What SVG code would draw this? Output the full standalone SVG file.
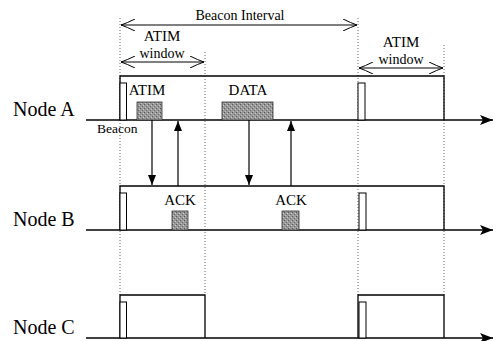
<svg xmlns="http://www.w3.org/2000/svg" width="497" height="341" viewBox="0 0 497 341">
<defs>
<style>
text{font-family:"Liberation Serif","Times New Roman",serif;fill:#000}
.node{font-size:20px}
.lbl{font-size:15px;text-anchor:middle}
.dim{font-size:14px;text-anchor:middle}
.tl{stroke:#000;stroke-width:1.3;fill:none}
.box{stroke:#000;stroke-width:1.3;fill:none}
.bcn{stroke:#000;stroke-width:1;fill:#fff}
.sh{stroke:#333;stroke-width:0.8;fill:url(#stip)}
.dot{stroke:#666;stroke-width:1;stroke-dasharray:1,2;fill:none}
.conn{stroke:#000;stroke-width:1.2;fill:none}
.dimln{stroke:#000;stroke-width:1;fill:none}
</style>
<pattern id="stip" width="4" height="4" patternUnits="userSpaceOnUse">
<rect width="4" height="4" fill="#989898"/>
<rect x="0" y="0" width="1" height="1" fill="#555"/>
<rect x="2" y="2" width="1" height="1" fill="#666"/>
<rect x="3" y="1" width="1" height="1" fill="#d0d0d0"/>
<rect x="1" y="3" width="1" height="1" fill="#c4c4c4"/>
</pattern>
<marker id="ah" viewBox="0 0 10 8" refX="10" refY="4" markerWidth="10" markerHeight="8" markerUnits="userSpaceOnUse" orient="auto">
<path d="M0,0 L10,4 L0,8 z" fill="#000"/>
</marker>
<marker id="tah" viewBox="0 0 13 10" refX="13" refY="5" markerWidth="13" markerHeight="10" markerUnits="userSpaceOnUse" orient="auto">
<path d="M0,0 L13,5 L0,10 L3,5 z" fill="#000"/>
</marker>
<marker id="open" viewBox="0 0 14 12" refX="14" refY="6" markerWidth="14" markerHeight="12" markerUnits="userSpaceOnUse" orient="auto-start-reverse">
<path d="M0,0 Q8,4 14,6 Q8,8 0,12" fill="none" stroke="#000" stroke-width="1"/>
</marker>
</defs>

<g id="guides">
<line class="dot" x1="120" y1="18" x2="120" y2="295"/>
<line class="dot" x1="205" y1="52" x2="205" y2="295"/>
<line class="dot" x1="358" y1="18" x2="358" y2="295"/>
<line class="dot" x1="444" y1="45" x2="444" y2="295"/>
</g>

<g id="beacon-interval">
<line class="dimln" x1="121" y1="25" x2="357" y2="25" marker-start="url(#open)" marker-end="url(#open)"/>
<text class="dim" x="240" y="20">Beacon Interval</text>
</g>

<g id="atim-window-1">
<line class="dimln" x1="121" y1="62" x2="204" y2="62" marker-start="url(#open)" marker-end="url(#open)"/>
<text class="lbl" x="162" y="41">ATIM</text>
<text class="dim" x="162" y="58">window</text>
</g>

<g id="atim-window-2">
<line class="dimln" x1="359" y1="68" x2="443" y2="68" marker-start="url(#open)" marker-end="url(#open)"/>
<text class="lbl" x="401" y="47">ATIM</text>
<text class="dim" x="401" y="64">window</text>
</g>

<g id="node-a">
<text class="node" x="13" y="116">Node A</text>
<line class="tl" x1="86" y1="120" x2="493" y2="120" marker-end="url(#tah)"/>
<polyline class="box" points="120,120 120,76 444,76 444,120"/>
<rect class="bcn" x="120" y="83" width="6.5" height="37"/>
<rect class="bcn" x="358" y="83" width="7" height="37"/>
<rect class="sh" x="137" y="102" width="25" height="18"/>
<text class="lbl" x="147" y="95">ATIM</text>
<rect class="sh" x="222" y="102" width="51" height="18"/>
<text class="lbl" x="248" y="95">DATA</text>
<text x="97" y="133" style="font-size:13.5px">Beacon</text>
</g>

<g id="node-b">
<text class="node" x="13" y="226">Node B</text>
<line class="tl" x1="86" y1="230" x2="493" y2="230" marker-end="url(#tah)"/>
<polyline class="box" points="120,230 120,186 444,186 444,230"/>
<rect class="bcn" x="120" y="193" width="6.5" height="37"/>
<rect class="bcn" x="359" y="193" width="7" height="37"/>
<rect class="sh" x="172" y="211" width="16" height="19"/>
<text class="lbl" x="180" y="205">ACK</text>
<rect class="sh" x="282" y="211" width="17" height="19"/>
<text class="lbl" x="291" y="205">ACK</text>
</g>

<g id="node-c">
<text class="node" x="13" y="334">Node C</text>
<line class="tl" x1="86" y1="338" x2="493" y2="338" marker-end="url(#tah)"/>
<polyline class="box" points="120,338 120,295 205,295 205,338"/>
<rect class="bcn" x="120" y="302" width="6.5" height="36"/>
<polyline class="box" points="358,338 358,295 444,295 444,338"/>
<rect class="bcn" x="359" y="302" width="7" height="36"/>
</g>

<g id="connectors">
<line class="conn" x1="152" y1="120" x2="152" y2="185" marker-end="url(#ah)"/>
<line class="conn" x1="178" y1="186" x2="178" y2="121" marker-end="url(#ah)"/>
<line class="conn" x1="249" y1="120" x2="249" y2="185" marker-end="url(#ah)"/>
<line class="conn" x1="291" y1="186" x2="291" y2="121" marker-end="url(#ah)"/>
</g>
</svg>
